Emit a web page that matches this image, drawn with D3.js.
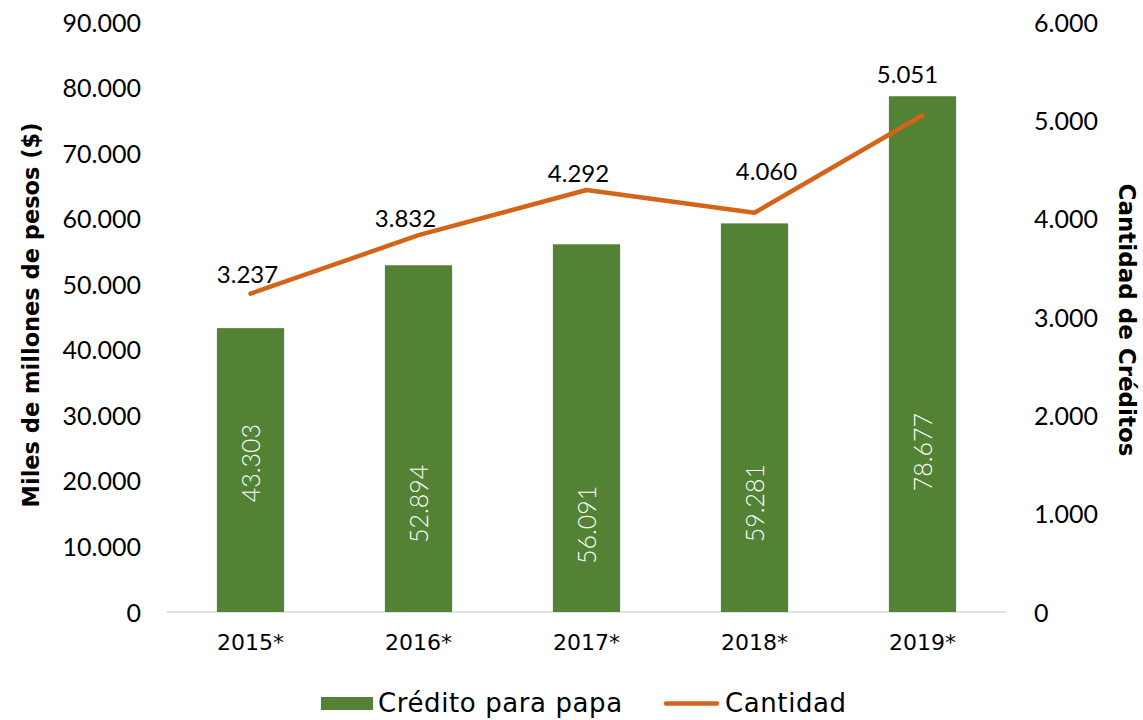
<!DOCTYPE html>
<html>
<head>
<meta charset="utf-8">
<script src="https://cdn.jsdelivr.net/npm/d3@7/dist/d3.min.js"></script>
<style>
  html, body { margin: 0; padding: 0; background: #ffffff; }
  svg { display: block; }
</style>
</head>
<body>
<svg id="chart" width="1143" height="720"></svg>
<script>
// ---- data ----
const categories = ["2015*", "2016*", "2017*", "2018*", "2019*"];
const creditoValues = [43303, 52894, 56091, 59281, 78677];   // Miles de millones de pesos
const cantidadValues = [3237, 3832, 4292, 4060, 5051];       // Cantidad de créditos
const leftTicks = [0, 10000, 20000, 30000, 40000, 50000, 60000, 70000, 80000, 90000];
const rightTicks = [0, 1000, 2000, 3000, 4000, 5000, 6000];
const seriesNames = ["Crédito para papa", "Cantidad"];
const axisTitles = ["Miles de millones de pesos ($)", "Cantidad de Créditos"];

// ---- layout / style (not data) ----
const W = 1143, H = 720;
const plot = { left: 166.5, right: 1006.5, top: 22, bottom: 612 };
const green = "#548235", orange = "#D46418";
const lato = "Lato, 'Liberation Sans', sans-serif";
const wide = "'DejaVu Sans', sans-serif";
// label placement (in left-axis units for bar labels, px nudges for line labels)
const barLabelAt = [22700, 16500, 13300, 16600, 24400];
const lineLabelNudge = [[-3, -11], [-13, -8], [-8, -8], [12, -33], [-15, -32]];

const fmt = v => d3.format(",")(v).replace(/,/g, ".");

const svg = d3.select("#chart");

const x = d3.scaleBand().domain(categories).range([plot.left, plot.right]).paddingInner(0.6).paddingOuter(0.3);
const yL = d3.scaleLinear().domain([0, 90000]).range([plot.bottom, plot.top]);
const yR = d3.scaleLinear().domain([0, 6000]).range([plot.bottom, plot.top]);

// baseline
svg.append("line")
  .attr("x1", plot.left).attr("x2", plot.right)
  .attr("y1", yL(0)).attr("y2", yL(0))
  .attr("stroke", "#d9d9d9").attr("stroke-width", 1.3);

// left axis
const axL = d3.axisLeft(yL).tickValues(leftTicks).tickFormat(fmt).tickSize(0).tickPadding(0);
const gL = svg.append("g").attr("transform", "translate(141,0)").call(axL);
gL.select(".domain").remove();
gL.selectAll("text").style("font-size", "25px").style("font-family", lato).attr("fill", "#000").attr("dy", "0.36em");

// right axis
const axR = d3.axisRight(yR).tickValues(rightTicks).tickFormat(fmt).tickSize(0).tickPadding(0);
const gR = svg.append("g").attr("transform", "translate(1034,0)").call(axR);
gR.select(".domain").remove();
gR.selectAll("text").style("font-size", "25px").style("font-family", lato).attr("fill", "#000").attr("dy", "0.36em");

// x axis
const axX = d3.axisBottom(x).tickSize(0).tickPadding(0);
const gX = svg.append("g").attr("transform", `translate(0,${plot.bottom + 22})`).call(axX);
gX.select(".domain").remove();
gX.selectAll("text").style("font-size", "22px").style("font-family", wide).attr("fill", "#000");

// bars
svg.append("g").selectAll("rect").data(creditoValues).join("rect")
  .attr("x", (d, i) => x(categories[i]))
  .attr("width", x.bandwidth())
  .attr("y", d => yL(d))
  .attr("height", d => yL(0) - yL(d))
  .attr("fill", green);

// bar labels (rotated, white)
svg.append("g").selectAll("text").data(creditoValues).join("text")
  .attr("transform", (d, i) => `translate(${x(categories[i]) + x.bandwidth() / 2},${yL(barLabelAt[i])}) rotate(-90)`)
  .attr("text-anchor", "middle").attr("dy", "0.36em")
  .style("font-family", lato).style("font-size", "25px").style("font-weight", 300).attr("fill", "#ffffff")
  .text(d => fmt(d));

// line
const lineGen = d3.line().x((d, i) => x(categories[i]) + x.bandwidth() / 2).y(d => yR(d));
svg.append("path").datum(cantidadValues)
  .attr("d", lineGen)
  .attr("fill", "none").attr("stroke", orange).attr("stroke-width", 4.5)
  .attr("stroke-linecap", "round").attr("stroke-linejoin", "round");

// line labels
svg.append("g").selectAll("text").data(cantidadValues).join("text")
  .attr("x", (d, i) => x(categories[i]) + x.bandwidth() / 2 + lineLabelNudge[i][0])
  .attr("y", (d, i) => yR(d) + lineLabelNudge[i][1])
  .attr("text-anchor", "middle")
  .style("font-family", lato).style("font-size", "24px").attr("fill", "#000")
  .text(d => fmt(d));

// axis titles
svg.append("text")
  .attr("transform", `translate(39,315) rotate(-90)`)
  .attr("text-anchor", "middle").attr("fill", "#000")
  .style("font-family", wide).style("font-size", "22.5px").style("font-weight", 700)
  .text(axisTitles[0]);
svg.append("text")
  .attr("transform", `translate(1119,320) rotate(90)`)
  .attr("text-anchor", "middle").attr("fill", "#000")
  .style("font-family", wide).style("font-size", "23px").style("font-weight", 700)
  .text(axisTitles[1]);

// legend
const lg = svg.append("g");
lg.append("rect").attr("x", 321).attr("y", 697).attr("width", 52).attr("height", 13).attr("fill", green);
lg.append("text").attr("x", 378).attr("y", 712).style("font-family", wide).style("font-size", "26px").style("letter-spacing", "0.6px").attr("fill", "#000").text(seriesNames[0]);
lg.append("line").attr("x1", 666).attr("x2", 717).attr("y1", 703.5).attr("y2", 703.5)
  .attr("stroke", orange).attr("stroke-width", 4.5).attr("stroke-linecap", "round");
lg.append("text").attr("x", 725).attr("y", 712).style("font-family", wide).style("font-size", "26px").style("letter-spacing", "0.6px").attr("fill", "#000").text(seriesNames[1]);
</script>
</body>
</html>
